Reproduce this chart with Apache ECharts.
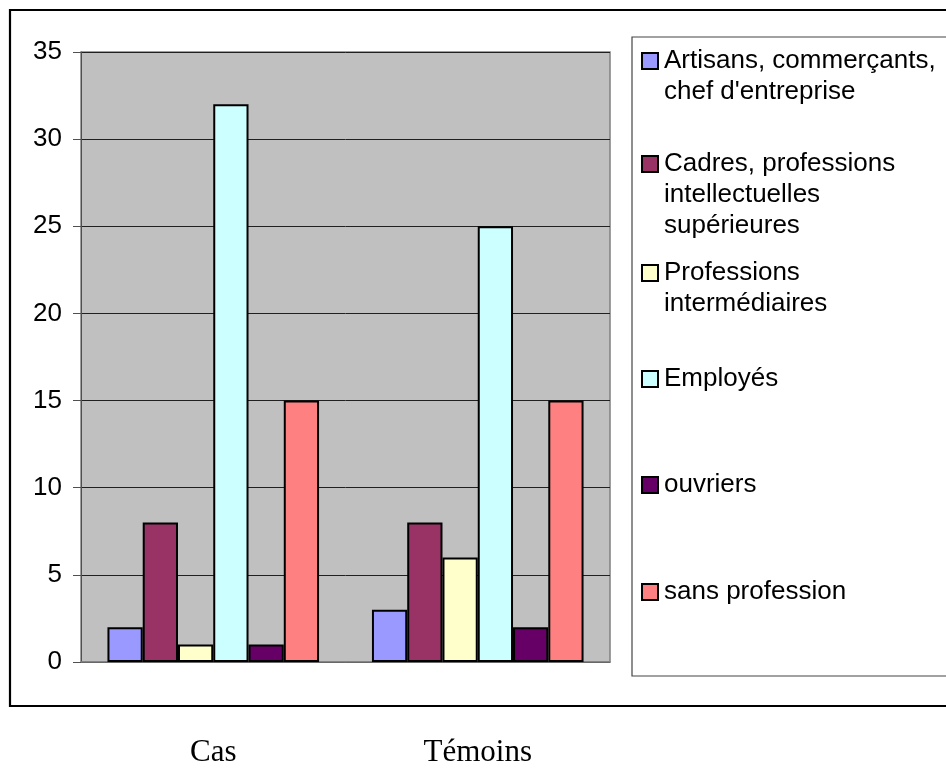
<!DOCTYPE html>
<html>
<head>
<meta charset="utf-8">
<title>Catégories socioprofessionnelles : Cas / Témoins</title>
<script src="https://cdn.jsdelivr.net/npm/echarts@6/dist/echarts.min.js"></script>
<style>
  html, body { margin: 0; padding: 0; background: #ffffff; }
  #chart { width: 946px; height: 769px; }
</style>
</head>
<body>
<div id="chart"></div>
<script>
// Groups on the x axis
const categories = ['Cas', 'Témoins'];

// Socio-professional categories (legend text, line breaks as displayed)
const seriesNames = [
  "Artisans, commerçants,\nchef d'entreprise",
  "Cadres, professions\nintellectuelles\nsupérieures",
  "Professions\nintermédiaires",
  "Employés",
  "ouvriers",
  "sans profession"
];

// Counts per category: [Cas, Témoins]
const artisans      = [2, 3];
const cadres        = [8, 8];
const intermediaires = [1, 6];
const employes      = [32, 25];
const ouvriers      = [1, 2];
const sansProfession = [15, 15];

const seriesValues = [artisans, cadres, intermediaires, employes, ouvriers, sansProfession];

// Y axis ticks
const yMin = 0;
const yMax = 35;
const yStep = 5;

const palette = ['#9999FF', '#993366', '#FFFFCC', '#CCFFFF', '#660066', '#FF8080'];

// Vertical centre of each legend marker
const legendCenters = [61, 164, 273, 379, 485, 592];
const legendLineHeight = 31;

const chart = echarts.init(document.getElementById('chart'), null, { renderer: 'canvas' });

const series = seriesNames.map((name, i) => ({
  name: name,
  type: 'bar',
  data: seriesValues[i],
  barGap: '0%',
  barCategoryGap: '20%',
  itemStyle: { color: palette[i], borderColor: '#000000', borderWidth: 2 }
}));

// One legend block per entry, so the marker sits beside the first text line
const legends = seriesNames.map((name, i) => {
  const lines = name.split('\n').length;
  return {
    data: [name],
    left: 641,
    top: legendCenters[i] - (2 * lines - 1) * legendLineHeight / 2,
    padding: 0,
    icon: 'rect',
    itemWidth: 16,
    itemHeight: 16,
    itemGap: 0,
    selectedMode: false,
    formatter: (n) => '\n'.repeat(lines - 1) + n,
    itemStyle: { borderColor: '#000000', borderWidth: 2 },
    textStyle: {
      fontFamily: '"Liberation Sans", Arial, sans-serif',
      fontSize: 26,
      lineHeight: legendLineHeight,
      color: '#000000',
      padding: [0, 0, 0, 1]
    }
  };
});

chart.setOption({
  animation: false,
  color: palette,
  backgroundColor: '#ffffff',
  grid: {
    left: 81,
    top: 52,
    width: 529,
    height: 610,
    show: true,
    backgroundColor: '#C0C0C0',
    borderColor: '#808080',
    borderWidth: 1.5
  },
  legend: legends,
  xAxis: {
    type: 'category',
    data: categories,
    axisLine: { show: true, lineStyle: { color: '#808080', width: 1.5 } },
    axisTick: { show: false },
    axisLabel: {
      margin: 75,
      fontFamily: '"Liberation Serif", "Times New Roman", serif',
      fontSize: 31,
      color: '#000000'
    }
  },
  yAxis: {
    type: 'value',
    min: yMin,
    max: yMax,
    interval: yStep,
    axisLine: { show: true, lineStyle: { color: '#505050', width: 1 } },
    axisTick: { show: true, inside: false, length: 8, lineStyle: { color: '#505050' } },
    splitLine: { show: true, lineStyle: { color: '#202020', width: 1 } },
    axisLabel: {
      margin: 19,
      fontFamily: '"Liberation Sans", Arial, sans-serif',
      fontSize: 26,
      color: '#000000'
    }
  },
  graphic: [
    {
      type: 'rect',
      silent: true,
      z: -1,
      shape: { x: 10, y: 10, width: 950, height: 696 },
      style: { fill: null, stroke: '#000000', lineWidth: 2.2 }
    },
    {
      type: 'rect',
      silent: true,
      z: -1,
      shape: { x: 632, y: 37, width: 330, height: 639 },
      style: { fill: '#ffffff', stroke: '#444444', lineWidth: 1.2 }
    }
  ],
  series: series
});
</script>
</body>
</html>
